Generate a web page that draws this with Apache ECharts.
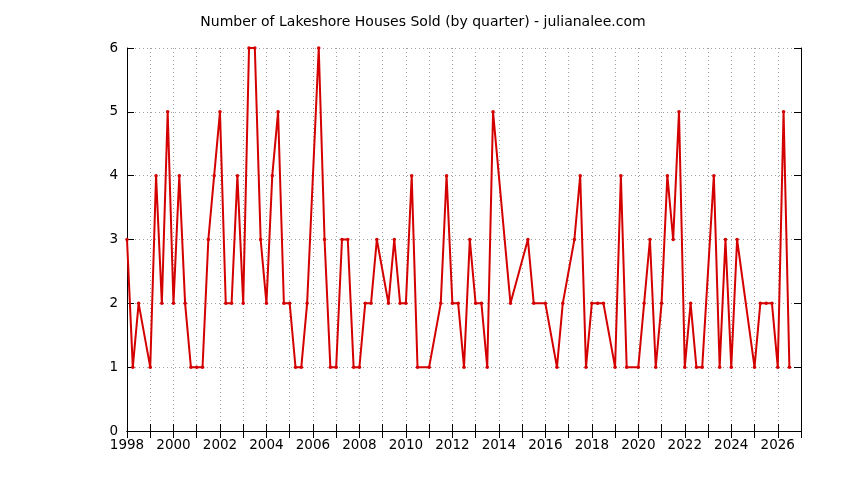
<!DOCTYPE html>
<html>
<head>
<meta charset="utf-8">
<script src="https://cdn.jsdelivr.net/npm/echarts@6/dist/echarts.min.js"></script>
<style>html,body{margin:0;padding:0;background:#fff}#c{width:844px;height:480px}</style>
</head>
<body>
<div id="c"></div>
<script>
// quarter labels (year-quarter) and houses sold
const quarters = [
 "1998Q1","1998Q2","1998Q3","1999Q1","1999Q2","1999Q3","1999Q4",
 "2000Q1","2000Q2","2000Q3","2000Q4","2001Q1","2001Q2","2001Q3","2001Q4",
 "2002Q1","2002Q2","2002Q3","2002Q4","2003Q1","2003Q2","2003Q3","2003Q4",
 "2004Q1","2004Q2","2004Q3","2004Q4","2005Q1","2005Q2","2005Q3","2005Q4",
 "2006Q2","2006Q3","2006Q4","2007Q1","2007Q2","2007Q3","2007Q4",
 "2008Q1","2008Q2","2008Q3","2008Q4","2009Q2","2009Q3","2009Q4",
 "2010Q1","2010Q2","2010Q3","2011Q1","2011Q3","2011Q4",
 "2012Q1","2012Q2","2012Q3","2012Q4","2013Q1","2013Q2","2013Q3","2013Q4",
 "2014Q3","2015Q2","2015Q3","2016Q1","2016Q3","2016Q4",
 "2017Q2","2017Q3","2017Q4","2018Q1","2018Q2","2018Q3",
 "2019Q1","2019Q2","2019Q3","2020Q1","2020Q2","2020Q3","2020Q4",
 "2021Q1","2021Q2","2021Q3","2021Q4","2022Q1","2022Q2","2022Q3","2022Q4",
 "2023Q2","2023Q3","2023Q4","2024Q1","2024Q2",
 "2025Q1","2025Q2","2025Q3","2025Q4","2026Q1","2026Q2","2026Q3"
];
const housesSold = [
 3,1,2,1,4,2,5,
 2,4,2,1,1,1,3,4,
 5,2,2,4,2,6,6,3,
 2,4,5,2,2,1,1,2,
 6,3,1,1,3,3,1,
 1,2,2,3,2,3,2,
 2,4,1,1,2,4,
 2,2,1,3,2,2,1,5,
 2,3,2,2,1,2,
 3,4,1,2,2,2,
 1,4,1,1,2,3,1,
 2,4,3,5,1,2,1,1,
 4,1,3,1,3,
 1,2,2,2,1,5,1
];
const yTicks = [0,1,2,3,4,5,6];
const xMin = 1998, xMax = 2027;

function qToYear(q){ return parseInt(q.slice(0,4),10) + (parseInt(q.slice(5),10)-1)/4; }
const seriesData = quarters.map((q,i)=>[qToYear(q), housesSold[i]]);

const font = 'DejaVu Sans';
const gridLine = {show:true, lineStyle:{color:'#a0a0a0', type:[1,3], width:1}};
const chart = echarts.init(document.getElementById('c'), null, {renderer:'canvas'});
chart.setOption({
  animation:false,
  backgroundColor:'#fff',
  title:{text:'Number of Lakeshore Houses Sold (by quarter) - julianalee.com', left:418, textAlign:'center', top:10,
    textStyle:{fontFamily:font, fontSize:14, fontWeight:'normal', color:'#000'}},
  grid:{left:127, right:43, top:48, bottom:49},
  xAxis:[{
    type:'value', min:xMin, max:xMax, interval:1,
    axisLine:{show:true, onZero:false, lineStyle:{color:'#000', width:1}},
    axisTick:{show:true, inside:true, length:7, lineStyle:{color:'#000'}},
    axisLabel:{fontFamily:font, fontSize:13.5, color:'#000', margin:7,
      formatter:v=> (v%2===0 && v<xMax) ? String(v) : ''},
    splitLine:gridLine
  },{
    type:'value', position:'top', min:xMin, max:xMax, interval:1,
    axisLine:{show:true, lineStyle:{color:'#000', width:1}},
    axisTick:{show:true, inside:true, length:7, lineStyle:{color:'#000'}},
    axisLabel:{show:false}, splitLine:{show:false}
  }],
  yAxis:[{
    type:'value', min:0, max:6, interval:1,
    axisLine:{show:true, lineStyle:{color:'#000', width:1}},
    axisTick:{show:true, inside:true, length:7, lineStyle:{color:'#000'}},
    axisLabel:{fontFamily:font, fontSize:13.5, color:'#000', margin:9,
      formatter:v=> yTicks.includes(v) ? String(v) : ''},
    splitLine:gridLine
  },{
    type:'value', position:'right', min:0, max:6, interval:1,
    axisLine:{show:true, lineStyle:{color:'#000', width:1}},
    axisTick:{show:true, inside:true, length:7, lineStyle:{color:'#000'}},
    axisLabel:{show:false}, splitLine:{show:false}
  }],
  series:[{
    type:'line', data:seriesData, xAxisIndex:0, yAxisIndex:0,
    symbol:'circle', symbolSize:3.5, showSymbol:true,
    lineStyle:{color:'#d40000', width:2},
    itemStyle:{color:'#d40000'}
  }]
});
</script>
</body>
</html>
